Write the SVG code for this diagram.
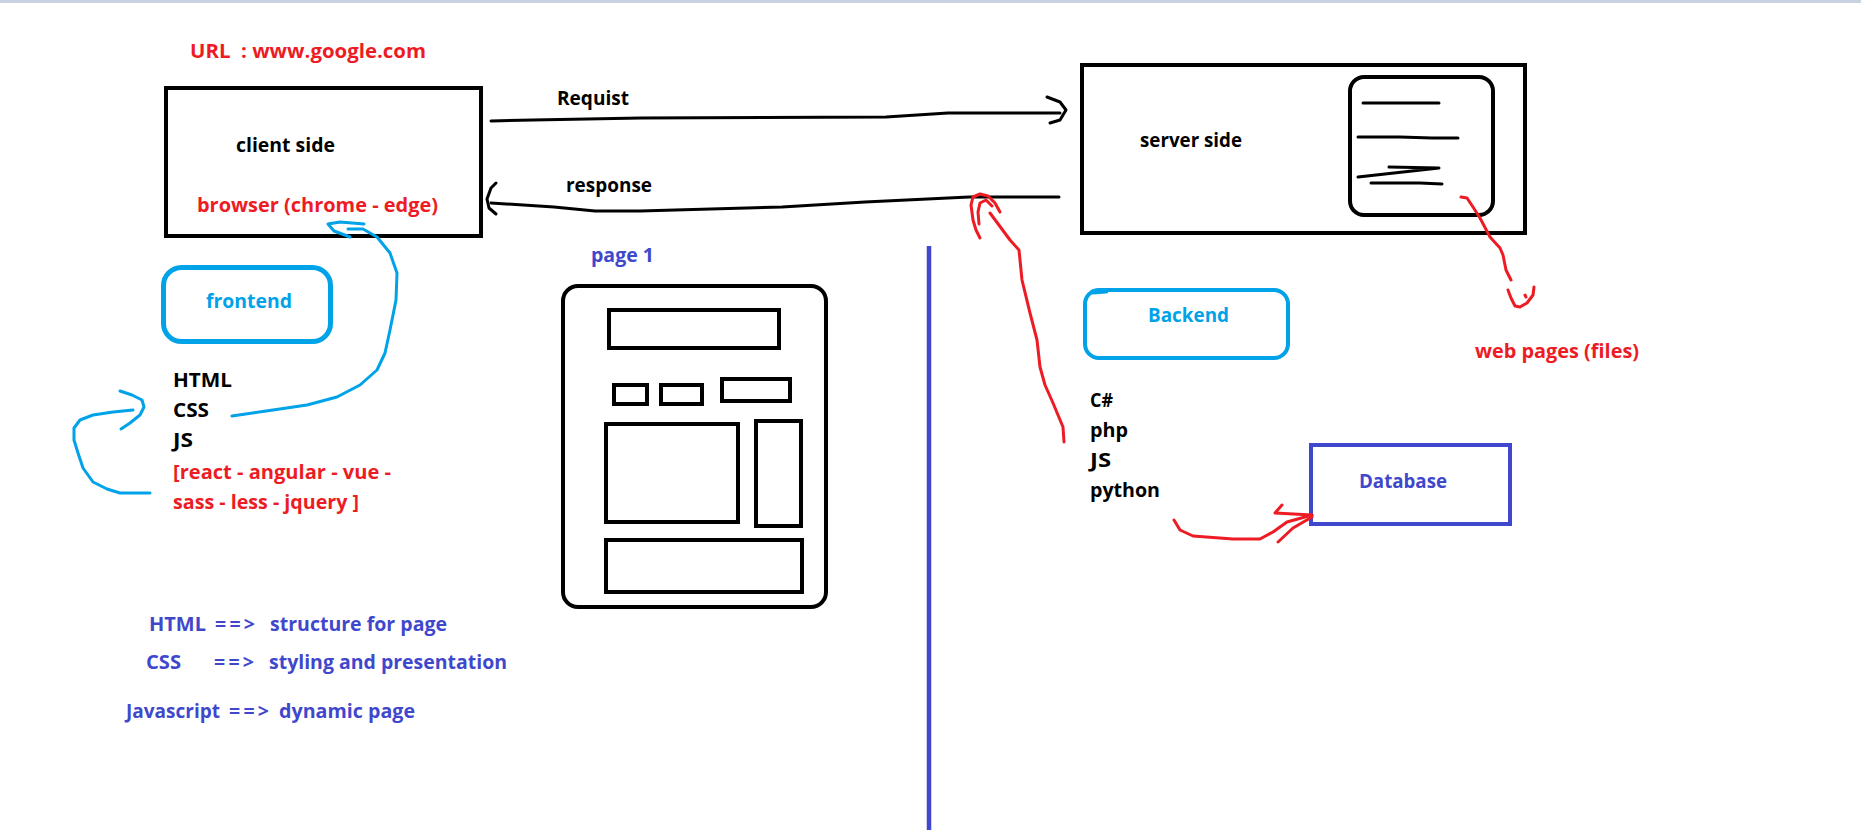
<svg xmlns="http://www.w3.org/2000/svg" width="1861" height="836" viewBox="0 0 1861 836">
<style>
text{font-family:"Open Sans","Noto Sans","DejaVu Sans",sans-serif;font-weight:700;font-size:19.5px}
.k{fill:#000}.r{fill:#ed1c24}.b{fill:#00a2e8}.i{fill:#3f48cc}
.box{fill:none;stroke:#000;stroke-width:4}
.bl{fill:none;stroke:#00a2e8}
.ink{fill:none;stroke-linecap:round;stroke-linejoin:round}
.ck{stroke:#000;stroke-width:3}
.cr{stroke:#ed1c24;stroke-width:3}
.cb{stroke:#00a2e8;stroke-width:3}
</style>
<rect x="0" y="0" width="1861" height="836" fill="#fff"/>
<rect x="0" y="0" width="1861" height="3" fill="#c9d1e3"/>

<text class="r" x="190" y="58" xml:space="preserve" textLength="236" lengthAdjust="spacingAndGlyphs">URL  : www.google.com</text>

<g id="client">
<rect class="box" x="166" y="88" width="315" height="148"/>
<text class="k" x="236" y="152" textLength="99" lengthAdjust="spacingAndGlyphs">client side</text>
<text class="r" x="197" y="212" textLength="241" lengthAdjust="spacingAndGlyphs">browser (chrome - edge)</text>
</g>

<g id="server">
<rect class="box" x="1082" y="65" width="443" height="168"/>
<text class="k" x="1140" y="147" textLength="102" lengthAdjust="spacingAndGlyphs">server side</text>
<g id="webpages-doc">
<rect class="box" x="1350" y="77" width="143" height="138" rx="14"/>
<g class="ink ck">
<path d="M1363,103 L1439,103"/>
<path d="M1358,137 L1400,137 L1432,138 L1458,138"/>
<path d="M1389,167 L1439,168 L1358,177"/>
<path d="M1371,183 L1420,183 L1442,184"/>
</g>
</g>
</g>

<g id="frontend">
<rect class="bl" x="163.5" y="267.5" width="167" height="74" rx="18" stroke-width="5"/>
<text class="b" x="206" y="308" textLength="86" lengthAdjust="spacingAndGlyphs">frontend</text>
</g>

<g id="frontend-list">
<text class="k" x="173" y="387" textLength="59" lengthAdjust="spacingAndGlyphs">HTML</text>
<text class="k" x="173" y="417" textLength="36" lengthAdjust="spacingAndGlyphs">CSS</text>
<text class="k" x="173" y="447" textLength="20" lengthAdjust="spacingAndGlyphs">JS</text>
<text class="r" x="173" y="479" textLength="218" lengthAdjust="spacingAndGlyphs">[react - angular - vue -</text>
<text class="r" x="173" y="509" textLength="186" lengthAdjust="spacingAndGlyphs">sass - less - jquery ]</text>
</g>

<g id="page">
<text class="i" x="591" y="262" textLength="63" lengthAdjust="spacingAndGlyphs">page 1</text>
<rect class="box" x="563" y="286" width="263" height="321" rx="15"/>
<rect class="box" x="609" y="310" width="170" height="38"/>
<rect class="box" x="614" y="385" width="33" height="19"/>
<rect class="box" x="661" y="385" width="41" height="19"/>
<rect class="box" x="722" y="379" width="68" height="22"/>
<rect class="box" x="606" y="424" width="132" height="98"/>
<rect class="box" x="756" y="421" width="45" height="105"/>
<rect class="box" x="606" y="540" width="196" height="52"/>
</g>

<g id="divider">
<line x1="929" y1="246" x2="929" y2="830" stroke="#3f48cc" stroke-width="4.5"/>
</g>

<g id="backend">
<rect class="bl" x="1085" y="290" width="203" height="68" rx="14" stroke-width="4"/>
<path d="M1093,292 L1106,291" stroke="#00a2e8" stroke-width="5" stroke-linecap="round"/>
<text class="b" x="1148" y="322" textLength="81" lengthAdjust="spacingAndGlyphs">Backend</text>
</g>

<g id="backend-list">
<text class="k" x="1090" y="407" textLength="23" lengthAdjust="spacingAndGlyphs">C#</text>
<text class="k" x="1090" y="437" textLength="38" lengthAdjust="spacingAndGlyphs">php</text>
<text class="k" x="1090" y="467" textLength="21" lengthAdjust="spacingAndGlyphs">JS</text>
<text class="k" x="1090" y="497" textLength="70" lengthAdjust="spacingAndGlyphs">python</text>
</g>

<g id="database">
<rect x="1311" y="445" width="199" height="79" fill="none" stroke="#3f48cc" stroke-width="4"/>
<text class="i" x="1359" y="488" textLength="88" lengthAdjust="spacingAndGlyphs">Database</text>
</g>

<text class="r" x="1475" y="358" textLength="164" lengthAdjust="spacingAndGlyphs">web pages (files)</text>

<g id="legend">
<text class="i" x="149" y="631" textLength="57" lengthAdjust="spacingAndGlyphs">HTML</text>
<text class="i" x="215" y="631" textLength="40" lengthAdjust="spacing">==&gt;</text>
<text class="i" x="270" y="631" textLength="177" lengthAdjust="spacingAndGlyphs">structure for page</text>
<text class="i" x="146" y="669" textLength="35" lengthAdjust="spacingAndGlyphs">CSS</text>
<text class="i" x="214" y="669" textLength="40" lengthAdjust="spacing">==&gt;</text>
<text class="i" x="269" y="669" textLength="238" lengthAdjust="spacingAndGlyphs">styling and presentation</text>
<text class="i" x="126" y="718" textLength="94" lengthAdjust="spacingAndGlyphs">Javascript</text>
<text class="i" x="229" y="718" textLength="40" lengthAdjust="spacing">==&gt;</text>
<text class="i" x="279" y="718" textLength="136" lengthAdjust="spacingAndGlyphs">dynamic page</text>
</g>

<g id="connectors" class="ink">
<g id="request">
<text class="k" x="557" y="105" textLength="72" lengthAdjust="spacingAndGlyphs">Requist</text>
<path class="ck" d="M491,121 L533,120 L641,118 L886,117 L948,113 L1060,113"/>
<path class="ck" d="M1047,97 L1060,102 L1066,110 L1060,120 L1050,123"/>
</g>
<g id="response">
<text class="k" x="566" y="192" textLength="86" lengthAdjust="spacingAndGlyphs">response</text>
<path class="ck" d="M1059,197 L969,197 L865,202 L782,207 L640,211 L595,211 L554,207 L491,203"/>
<path class="ck" d="M496,183 L491,188 L487,199 L489,208 L496,214"/>
</g>
<g id="css-to-browser">
<path class="cb" d="M232,416 L273,410 L307,405 L337,397 L360,385 L377,370 L385,353 L390,330 L396,300 L397,273 L390,253 L377,237 L363,229 L348,229"/>
<path class="cb" d="M364,224 L340,222 L328,224 L334,231 L350,237"/>
</g>
<g id="list-loop">
<path class="cb" d="M150,493 L120,493 L107,489 L93,482 L83,468 L78,453 L74,440 L74,428 L80,420 L93,415 L113,412 L133,410"/>
<path class="cb" d="M120,391 L132,395 L142,400 L144,407 L140,415 L130,423 L121,429"/>
</g>
<g id="backend-to-response">
<path class="cr" d="M1064,442 L1063,427 L1053,403 L1045,385 L1040,367 L1037,340 L1030,313 L1022,280 L1019,250 L1010,240 L990,213"/>
<path class="cr" d="M1000,212 L995,203 L988,196 L980,194 L973,197 L971,205 L973,220 L976,230 L980,238"/>
<path class="cr" d="M992,206 L986,200 L980,203 L978,212 L979,224"/>
</g>
<g id="doc-to-webpages">
<path class="cr" d="M1461,197 L1467,198 L1473,207 L1480,218 L1490,237 L1500,248 L1503,255 L1506,270 L1511,280"/>
<path class="cr" d="M1508,290 L1511,298 L1515,306 L1520,307 L1527,303 L1533,295 L1534,287"/>
<path class="cr" d="M1525,295 L1526,297"/>
</g>
<g id="python-to-database">
<path class="cr" d="M1174,520 L1180,530 L1193,536 L1233,539 L1260,539 L1273,532 L1287,522 L1312,515"/>
<path class="cr" d="M1282,505 L1275,513 L1312,515"/>
<path class="cr" d="M1278,542 L1293,528 L1312,517"/>
</g>
</g>
</svg>
